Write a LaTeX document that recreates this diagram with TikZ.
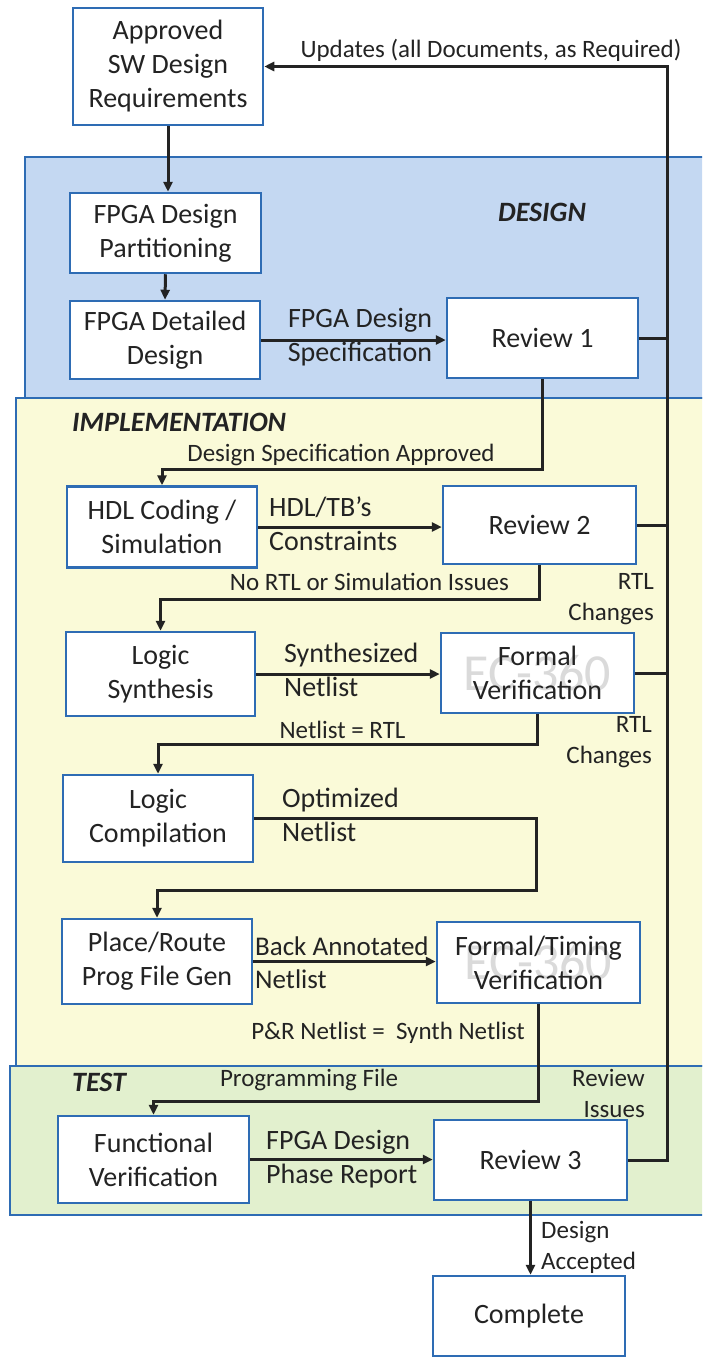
\documentclass[tikz,border=0pt]{standalone}
\usepackage{fontspec}
\setmainfont{Carlito}
\usetikzlibrary{arrows.meta}
\definecolor{bandblue}{RGB}{196,216,242}
\definecolor{bandyellow}{RGB}{250,250,216}
\definecolor{bandgreen}{RGB}{226,240,206}
\definecolor{edgeblue}{RGB}{46,108,180}
\definecolor{ink}{RGB}{35,35,35}
\definecolor{wmgray}{RGB}{218,218,218}
\begin{document}
\begin{tikzpicture}[x=1pt,y=-1pt,
 box/.style={draw=edgeblue, line width=2.5pt, fill=white, inner sep=0pt, align=center, text=ink, font=\fontsize{28}{34}\selectfont},
 band/.style={draw=edgeblue, line width=2.5pt},
 conn/.style={draw=ink, line width=3pt},
 arr/.style={conn, -{Triangle[length=10pt,width=9pt]}},
 big/.style={text=ink, font=\fontsize{28}{34}\selectfont, inner sep=0pt},
 mid/.style={text=ink, font=\fontsize{27}{33}\selectfont, inner sep=0pt},
 small/.style={text=ink, font=\fontsize{25}{31}\selectfont, inner sep=0pt},
 phase/.style={text=ink, font=\fontsize{28}{34}\selectfont\bfseries\itshape, inner sep=0pt},
 wm/.style={path picture={\node[text=wmgray, font=\fontsize{52}{52}\selectfont] at (path picture bounding box.center) {EC-360};}}
]
\useasboundingbox (0,0) rectangle (702,1357);
\clip (0,0) rectangle (702,1357);

% phase bands
\path[band, fill=bandyellow] (16,398) rectangle (712,1066);
\path[band, fill=bandgreen] (10,1066) rectangle (712,1215);
\path[band, fill=bandblue] (25,157) rectangle (712,398);

\node[phase] (designlbl) at (542,212) {DESIGN};
\node[phase, anchor=west] (impllbl) at (72,422) {IMPLEMENTATION};
\node[phase, anchor=west] (testlbl) at (72,1082) {TEST};

% boxes
\node[box, minimum width=190pt, minimum height=117pt] (appr) at (168,66.5) {Approved\\SW Design\\Requirements};
\node[box, minimum width=191pt, minimum height=80pt] (part) at (165.5,233) {FPGA Design\\Partitioning};
\node[box, minimum width=190pt, minimum height=78pt] (det) at (165,340) {FPGA Detailed\\Design};
\node[box, minimum width=191pt, minimum height=80pt] (rev1) at (542.5,338) {Review 1};
\node[box, minimum width=190pt, minimum height=81pt] (hdl) at (162,527) {HDL Coding /\\Simulation};
\node[box, minimum width=193pt, minimum height=78pt] (rev2) at (539.5,525) {Review 2};
\node[box, minimum width=189pt, minimum height=84pt] (syn) at (160.5,674) {Logic\\Synthesis};
\node[box, minimum width=193pt, minimum height=80pt, wm] (fv) at (537.5,673) {Formal\\Verification};
\node[box, minimum width=190pt, minimum height=87pt] (comp) at (158,818.5) {Logic\\Compilation};
\node[box, minimum width=190pt, minimum height=85pt] (pr) at (157,961.5) {Place/Route\\Prog File Gen};
\node[box, minimum width=203pt, minimum height=81pt, wm] (ftv) at (538.5,962.5) {Formal/Timing\\Verification};
\node[box, minimum width=191pt, minimum height=87pt] (func) at (153.5,1159.5) {Functional\\Verification};
\node[box, minimum width=193pt, minimum height=80pt] (rev3) at (530.5,1160) {Review 3};
\node[box, minimum width=192pt, minimum height=80pt] (done) at (529,1316) {Complete};

% feedback line
\coordinate (fbtop) at (667,66.5);
\draw[arr] (rev3.east) -| (fbtop) -- (appr.east);
\draw[conn] (rev1.east) -- (rev1.east -| fbtop);
\draw[conn] (rev2.east) -- (rev2.east -| fbtop);
\draw[conn] (fv.east) -- (fv.east -| fbtop);

% main flow
\draw[arr] (appr.south) -- (appr.south |- part.north);
\draw[arr] (part.south) -- (det.north);
\draw[arr] (det.east) -- (det.east -| rev1.west);
\draw[arr] (rev1.south) -- ++(0,90) -| (hdl.north);
\draw[arr] (hdl.east) -- (hdl.east -| rev2.west);
\draw[arr] (rev2.south) -- ++(0,34) -| (syn.north);
\draw[arr] (syn.east) -- (syn.east -| fv.west);
\draw[arr] (fv.south) -- ++(0,30) -| (comp.north);
\coordinate (optc) at (536,890);
\draw[arr] (comp.east) -| (optc) -| (pr.north);
\draw[arr] (pr.east) -- (pr.east -| ftv.west);
\draw[arr] (ftv.south) -- ++(0,97) -| (func.north);
\draw[arr] (func.east) -- (func.east -| rev3.west);
\draw[arr] (rev3.south) -- (rev3.south |- done.north);

% labels
\node[small] (lupd) at (491,50) {Updates (all Documents, as Required)};
\node[big, align=center] (lspec) at (360,337) {FPGA Design\\Specification};
\node[small] (lapp) at (341,455) {Design Specification Approved};
\node[big, align=left, anchor=west] (lhdl) at (269,524) {HDL/TB’s\\Constraints};
\node[small] (lnortl) at (369.5,582) {No RTL or Simulation Issues};
\node[small, align=right, anchor=east] (lrtl1) at (654,599) {RTL\\Changes};
\node[big, align=left, anchor=west] (lsyn) at (284,670) {Synthesized\\Netlist};
\node[small] (lnet) at (342.5,730) {Netlist = RTL};
\node[small, align=right, anchor=east] (lrtl2) at (652,742.5) {RTL\\Changes};
\node[big, align=left, anchor=west] (lopt) at (282,815) {Optimized\\Netlist};
\node[mid, align=left, anchor=west] (lback) at (255,962.5) {Back Annotated\\Netlist};
\node[small] (lpr) at (388,1033) {P\&R Netlist =~ Synth Netlist};
\node[small] (lprog) at (309,1080) {Programming File};
\node[small, align=right, anchor=east] (lrev) at (645,1093) {Review\\Issues};
\node[big, align=left, anchor=west] (lrep) at (266,1159) {FPGA Design\\Phase Report};
\node[small, align=left, anchor=west] (lacc) at (541,1247) {Design\\Accepted};
\end{tikzpicture}
\end{document}
